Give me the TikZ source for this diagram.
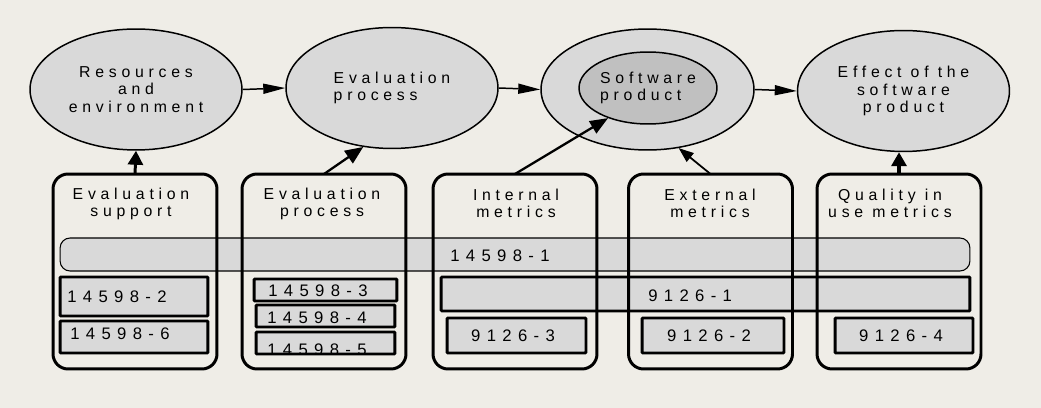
\documentclass[tikz,border=0pt]{standalone}
\usepackage{fontspec}
\newfontfamily\tracked[LetterSpace=30]{Liberation Sans}
\newfontfamily\codefont[LetterSpace=38]{Liberation Sans}
\usepackage{tikz}
\usetikzlibrary{calc}
\usetikzlibrary{arrows.meta}
\usetikzlibrary{shapes.geometric}
\usepackage{xcolor}

\definecolor{paper}{RGB}{239,237,231}
\definecolor{shade}{RGB}{217,217,217}
\definecolor{core}{RGB}{192,192,192}

\tikzset{
  bubble/.style={ellipse, draw=black, fill=shade, line width=0.85pt,
    minimum width=4.24cm, minimum height=2.42cm, inner sep=0pt,
    align=center, font=\tracked\fontsize{9}{9.8}\selectfont},
  column/.style={draw=black, line width=1.7pt, rounded corners=0.3cm,
    minimum width=3.28cm, minimum height=3.9cm, outer sep=0pt},
  part/.style={draw=black, fill=shade, line width=1.7pt, rounded corners=0.6pt,
    outer sep=0pt, inner sep=0pt},
  band/.style={draw=black, fill=shade, line width=0.6pt, rounded corners=0.2cm,
    outer sep=0pt, inner sep=0pt},
  head/.style={align=center, inner sep=0pt, font=\tracked\fontsize{9}{9.6}\selectfont},
  code/.style={inner sep=0pt, font=\codefont\fontsize{9.5}{10}\selectfont},
  flow/.style={-{Triangle[length=4.4mm,width=2mm]}, line width=0.85pt},
  lift/.style={-{Triangle[length=2.8mm,width=3mm]}, line width=1.7pt},
}

\begin{document}
\begin{tikzpicture}[x=0.02cm,y=-0.02cm]

\fill[paper] (0,0) rectangle (1041,408);
\useasboundingbox (0,0) rectangle (1041,408);

% top row
\node[bubble] (res) at (136,89.5) {Resources\\and\\environment};
\node[bubble, align=left] (proc) at (392,88) {Evaluation\\process};
\node[bubble, minimum width=4.26cm] (outer) at (647.5,89.5) {};
\node[bubble, fill=core, minimum width=2.76cm, minimum height=1.44cm, align=left] (prod) at (648,88) {Software\\product};
\node[bubble] (effect) at (903.5,91) {Effect of the\\software\\product};

% long bars
\node[band, minimum width=18.2cm, minimum height=0.66cm] (bar1) at (515,254.5) {};
\node[code, anchor=west] (bar1txt) at (450,256) {14598-1};
\node[part, minimum width=10.58cm, minimum height=0.68cm] (bar2) at (705.5,294) {};
\node[code, anchor=west] (bar2txt) at (648,295.5) {9126-1};

% columns
\node[column] (col1) at (135,271.5) {};
\node[column] (col2) at (324,271.5) {};
\node[column] (col3) at (515,271.5) {};
\node[column] (col4) at (710.5,271.5) {};
\node[column] (col5) at (899,271.5) {};

\node[head] (h1) at (131,203.5) {Evaluation\\support};
\node[head] (h2) at (322,203.5) {Evaluation\\process};
\node[head] (h3) at (516,203.5) {Internal\\metrics};
\node[head] (h4) at (710,203.5) {External\\metrics};
\node[head] (h5) at (890,203.5) {Quality in\\use metrics};

% parts
\node[part, minimum width=2.96cm, minimum height=0.78cm] (p2) at (134,296.5) {};
\node[code, anchor=west] (p2txt) at (67,297) {14598-2};
\node[part, minimum width=2.96cm, minimum height=0.64cm] (p6) at (134,337) {};
\node[code, anchor=west] (p6txt) at (70,333.5) {14598-6};

\node[part, minimum width=2.86cm, minimum height=0.44cm] (p3) at (325.5,290) {};
\node[code, anchor=west] (p3txt) at (268,291) {14598-3};
\node[part, minimum width=2.78cm, minimum height=0.44cm] (p4) at (325.5,316) {};
\node[code, anchor=west] (p4txt) at (267,317.5) {14598-4};
\node[part, minimum width=2.78cm, minimum height=0.44cm] (p5) at (325.5,343) {};
\begin{scope}
\clip ($(p5.south west)+(1.5,-1.5)$) rectangle ($(p5.north east)+(-1.5,1.5)$);
\node[code, anchor=west] (p5txt) at (267,349.5) {14598-5};
\end{scope}

\node[part, minimum width=2.78cm, minimum height=0.7cm] (m3) at (516.5,335.5) {};
\node[code] (m3txt) at (513,336) {9126-3};
\node[part, minimum width=2.84cm, minimum height=0.7cm] (m2) at (713,335.5) {};
\node[code] (m2txt) at (709,336) {9126-2};
\node[part, minimum width=2.76cm, minimum height=0.7cm] (m4) at (904,335.5) {};
\node[code] (m4txt) at (901,336) {9126-4};

% arrows
\draw[flow] (res.east) -- (proc.west);
\draw[flow] (proc.east) -- (outer.west);
\draw[flow] (outer.east) -- (effect.west);

\draw[lift] (col1.north) -- (res.south);
\draw[lift, line width=1.3pt, -{Triangle[length=3.6mm,width=3mm]}] (col2.north) -- (proc.244);
\draw[lift, line width=1.3pt, -{Triangle[length=3.6mm,width=2.8mm]}] (col3.north) -- (prod.217);
\draw[lift, line width=1pt, -{Triangle[length=3mm,width=2.2mm]}] (col4.north) -- (outer.298);
\draw[lift, line width=2pt] (col5.north) -- (col5.north |- effect.south);

\end{tikzpicture}
\end{document}
